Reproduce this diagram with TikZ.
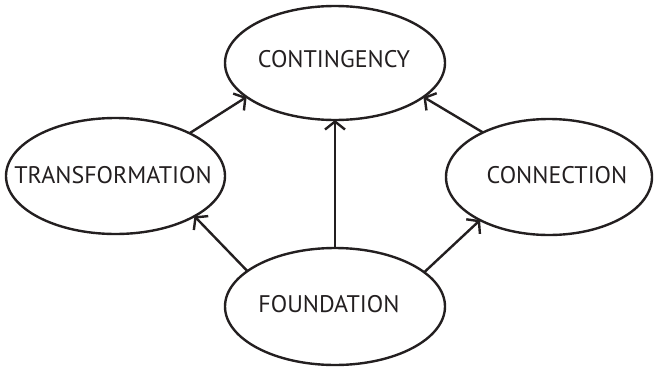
\documentclass[tikz,border=0pt]{standalone}
\usepackage{fontspec}
\setmainfont{PT Sans}
\usetikzlibrary{shapes.geometric,arrows.meta}
\definecolor{ink}{HTML}{231F20}
\tikzset{
  oval/.style={ellipse, draw=ink, line width=2.4pt, inner sep=0pt, outer sep=0pt},
  lbl/.style={text=ink, font=\fontsize{24}{26}\selectfont, inner sep=0pt},
  link/.style={draw=ink, line width=2.4pt, -{Straight Barb[length=8pt,width=20pt,line width=2.4pt]}}
}
\begin{document}
\begin{tikzpicture}[x=1pt,y=-1pt]
\useasboundingbox (0,0) rectangle (656,367);
\node[oval, minimum width=220pt, minimum height=114pt] (cont) at (335,63) {};
\node[oval, minimum width=219pt, minimum height=116pt] (trans) at (115.5,176) {};
\node[oval, minimum width=206pt, minimum height=116pt] (conn) at (549,177) {};
\node[oval, minimum width=220pt, minimum height=117pt] (found) at (335,306.5) {};
\node[lbl] (tcont) at (334,59) {CONTINGENCY};
\node[lbl] (ttrans) at (113,175) {TRANSFORMATION};
\node[lbl] (tconn) at (557,175.5) {CONNECTION};
\node[lbl] (tfound) at (329,304) {FOUNDATION};
\draw[link] (found.158.5) -- (trans.-27.8);
\draw[link] (found.north) -- (cont.south);
\draw[link] (found.21.1) -- (conn.212.9);
\draw[link] (trans.30.7) -- (cont.201.3);
\draw[link] (conn.146.1) -- (cont.339.9);
\end{tikzpicture}
\end{document}
